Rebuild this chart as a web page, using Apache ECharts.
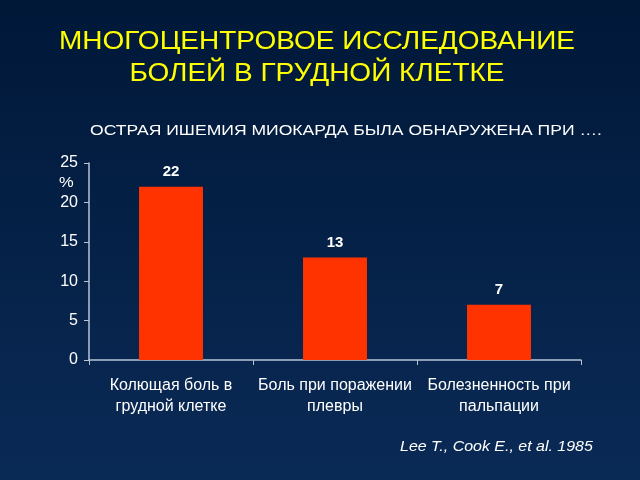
<!DOCTYPE html>
<html><head><meta charset="utf-8">
<script src="https://cdn.jsdelivr.net/npm/echarts@6/dist/echarts.min.js"></script>
<style>html,body{margin:0;padding:0;background:#001a3a}#c{width:640px;height:480px}</style>
</head><body><div id="c"></div>
<script>
const categories = ['Колющая боль в\nгрудной клетке', 'Боль при поражении\nплевры', 'Болезненность при\nпальпации'];
const values = [22, 13, 7];
const yTicks = [0, 5, 10, 15, 20, 25];
const titleLines = ['МНОГОЦЕНТРОВОЕ ИССЛЕДОВАНИЕ', 'БОЛЕЙ В ГРУДНОЙ КЛЕТКЕ'];
const subtitle = 'ОСТРАЯ ИШЕМИЯ МИОКАРДА БЫЛА ОБНАРУЖЕНА ПРИ ….';
const citation = 'Lee T., Cook E., et al. 1985';

const chart = echarts.init(document.getElementById('c'), null, {renderer: 'canvas'});
const axisCol = '#b8c4d6';
const FF = '"Liberation Sans", Arial, sans-serif';
chart.setOption({
  backgroundColor: {
    type: 'linear', x: 0, y: 0, x2: 0, y2: 1,
    colorStops: [{offset: 0, color: '#001838'}, {offset: 1, color: '#0a2a56'}]
  },
  textStyle: {fontFamily: FF},
  graphic: [
    {type: 'text', x: 317, y: 26, scaleX: 1.12, style: {text: titleLines.join('\n'), fill: '#ffff00', font: '25px ' + FF, lineHeight: 32, textAlign: 'center'}},
    {type: 'text', x: 90, y: 123, scaleX: 1.17, style: {text: subtitle, fill: '#ffffff', font: '15px ' + FF}},
    {type: 'text', x: 59, y: 175, scaleX: 1.1, style: {text: '%', fill: '#ffffff', font: '15px ' + FF}},
    {type: 'text', x: 400, y: 440, scaleX: 1.14, style: {text: citation, fill: '#ffffff', font: 'italic 14px ' + FF}}
  ],
  grid: {left: 89, right: 59, top: 163, bottom: 120, containLabel: false},
  xAxis: {
    type: 'category', data: categories,
    axisLine: {lineStyle: {color: axisCol, width: 1.5}},
    axisTick: {show: true, length: 5, lineStyle: {color: axisCol}},
    axisLabel: {color: '#ffffff', fontSize: 16, lineHeight: 21, margin: 15, interval: 0}
  },
  yAxis: {
    type: 'value', min: 0, max: 25, interval: 5,
    axisLine: {show: true, lineStyle: {color: axisCol, width: 1.5}},
    axisTick: {show: true, length: 5, lineStyle: {color: axisCol}},
    splitLine: {show: false},
    axisLabel: {color: '#ffffff', fontSize: 16, margin: 11}
  },
  series: [{
    type: 'bar', data: values, barWidth: '39%',
    itemStyle: {color: '#ff3300'},
    label: {show: true, position: 'top', distance: 7, color: '#ffffff', fontWeight: 'bold', fontSize: 15}
  }]
});
</script></body></html>
